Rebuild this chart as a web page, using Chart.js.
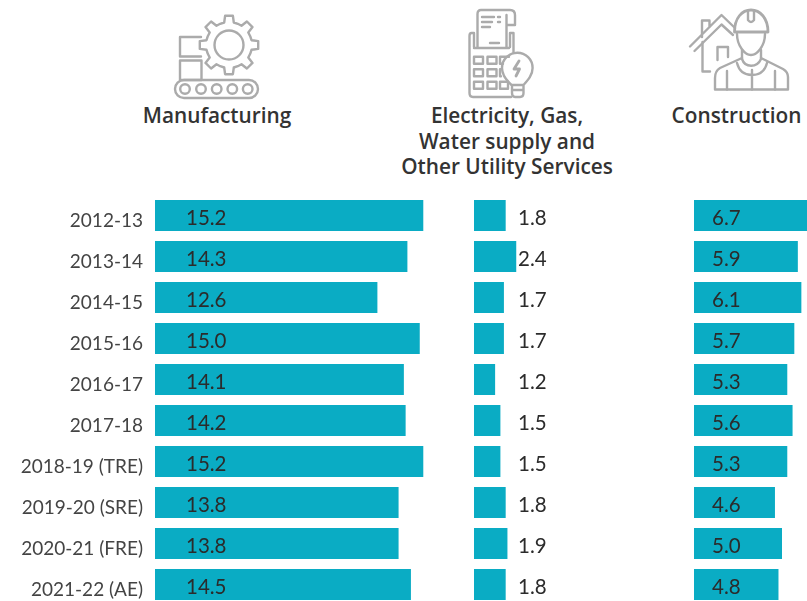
<!DOCTYPE html>
<html>
<head>
<meta charset="utf-8">
<script src="https://cdn.jsdelivr.net/npm/chart.js@4"></script>
<style>
  html, body { margin: 0; padding: 0; background: #fff; }
  body { position: relative; width: 807px; height: 601px; overflow: hidden; }
  canvas { position: absolute; top: 195px; }
  svg { position: absolute; left: 0; top: 0; }
  .title {
    position: absolute; text-align: center; color: #333;
    font: 600 20.8px/25.5px "Open Sans", sans-serif; white-space: nowrap;
    transform: translateX(-50%);
  }
</style>
</head>
<body>
<svg id="icons" width="807" height="190" fill="none" stroke="#ababab" stroke-width="2.4" stroke-linejoin="round" stroke-linecap="round">
  <!-- manufacturing -->
  <path id="gear"/>
  <circle cx="229" cy="45" r="14.5"/>
  <path d="M201 37H180V56.5H201M180 60.5H201.5V80H180Z"/>
  <rect x="175" y="80" width="83" height="18" rx="9"/>
  <circle cx="185" cy="89" r="4.8"/><circle cx="201" cy="89" r="4.8"/><circle cx="216.7" cy="89" r="4.8"/><circle cx="232.3" cy="89" r="4.8"/><circle cx="247.7" cy="89" r="4.8"/>
  <!-- electricity -->
  <path d="M477.5 47V14Q477.5 10 481 10H510Q515 10 515 15V25H506.5M506.5 15V47M474 47V33H471.5Q469.5 33 469.5 36V93Q469.5 97 473 97H511M513.5 33H510V47M513.5 33V52M474 48H509"/>
  <path d="M482 17H494M482 22H492M482 27H490M498 17H500M498 22H500M490 43H499"/>
  <rect x="474" y="56.7" width="9" height="7"/><rect x="487.5" y="56.7" width="9" height="7"/><path d="M509 56.7H500V63.7H503"/>
  <rect x="474" y="69.3" width="9" height="7"/><rect x="487.5" y="69.3" width="9" height="7"/><path d="M501 69.3H500V76.3H501"/>
  <rect x="474" y="81.7" width="9" height="7"/><rect x="487.5" y="81.7" width="9" height="7"/><rect x="500" y="81.7" width="8" height="7"/>
  <path d="M511.5 85C506 80 502 75 502 68A15.3 15.3 0 0 1 532.6 68C532.6 75 528 80 523.5 85ZM512 85V93Q512 97 515 97H520Q523.5 97 523.5 93V85M512 90H523.5"/>
  <path d="M519 61L514 69H519.5L516 76" stroke-width="2.8"/>
  <!-- construction -->
  <path d="M690 46.5L721.5 15L735 28M694.5 51L721.5 24.5L733 35M702 37V20.5H709.5V27"/>
  <path d="M702.5 42V71.5H710M717.5 60V47H728V57"/>
  <path d="M734.5 32C734.5 18 742 10 751 10C760 10 768 18 768 32Z" stroke-width="2.8"/>
  <path d="M748 10.5V20Q751 24 754 20V10.5"/>
  <path d="M737 34C737 46 745 55 751 55C757 55 765 46 765 34"/>
  <path d="M742 50V59C745 68 757 68 761 59V50"/>
  <path d="M742 58L720 68Q715 71 715 78V89.5H788V77Q788 72 783 69L761 58"/>
  <path d="M727 71V89.5M775 71V89.5M752 70V89.5M737 63Q740 75 752 75Q764 75 767 63"/>
</svg>
<div class="title" style="left:217px;top:103px">Manufacturing</div>
<div class="title" style="left:507px;top:103px">Electricity, Gas,<br>Water supply and<br>Other Utility Services</div>
<div class="title" style="left:736.5px;top:103px">Construction</div>
<canvas id="mfg" style="left:0"></canvas>
<canvas id="util" style="left:474px"></canvas>
<canvas id="con" style="left:694px"></canvas>
<script>
var years = ["2012-13", "2013-14", "2014-15", "2015-16", "2016-17", "2017-18", "2018-19 (TRE)", "2019-20 (SRE)", "2020-21 (FRE)", "2021-22 (AE)"];
var manufacturing = [15.2, 14.3, 12.6, 15.0, 14.1, 14.2, 15.2, 13.8, 13.8, 14.5];
var utilities = [1.8, 2.4, 1.7, 1.7, 1.2, 1.5, 1.5, 1.8, 1.9, 1.8];
var construction = [6.7, 5.9, 6.1, 5.7, 5.3, 5.6, 5.3, 4.6, 5.0, 4.8];

// gear outline for the manufacturing icon
function gearPath(cx, cy, rOut, rIn, teeth) {
  var d = "";
  for (var i = 0; i < teeth; i++) {
    var a = i * 2 * Math.PI / teeth - Math.PI / 2;
    var s = 2 * Math.PI / teeth;
    [[rIn, -0.5], [rIn, -0.27], [rOut, -0.17], [rOut, 0.17], [rIn, 0.27]].forEach(function (p, j) {
      var x = cx + p[0] * Math.cos(a + p[1] * s);
      var y = cy + p[0] * Math.sin(a + p[1] * s);
      d += (i === 0 && j === 0 ? "M" : "L") + x.toFixed(1) + " " + y.toFixed(1);
    });
  }
  return d + "Z";
}
document.getElementById("gear").setAttribute("d", gearPath(229, 45, 29.5, 23, 8));

// value text sits at a fixed distance from the start of each bar
var valueLabels = {
  id: "valueLabels",
  afterDatasetsDraw: function (chart, args, opts) {
    var ctx = chart.ctx;
    var meta = chart.getDatasetMeta(0);
    ctx.save();
    ctx.font = '20.5px Lato, sans-serif';
    ctx.fillStyle = "#2b2b2b";
    ctx.textAlign = "left";
    ctx.textBaseline = "middle";
    chart.data.datasets[0].data.forEach(function (v, i) {
      ctx.fillText(v.toFixed(1), chart.scales.x.left + opts.offset, meta.data[i].y + 2.5);
    });
    ctx.restore();
  }
};

function renderBars(id, values, width, maxValue, offset, showYears) {
  var canvas = document.getElementById(id);
  canvas.width = width;
  canvas.height = 410;
  canvas.style.width = width + "px";
  canvas.style.height = "410px";
  new Chart(canvas.getContext("2d"), {
    type: "bar",
    data: {
      labels: years,
      datasets: [{
        data: values,
        backgroundColor: "#0aacc4",
        barPercentage: 31 / 41,
        categoryPercentage: 1
      }]
    },
    options: {
      indexAxis: "y",
      responsive: false,
      animation: false,
      layout: { padding: 0 },
      plugins: {
        legend: { display: false },
        tooltip: { enabled: false },
        valueLabels: { offset: offset }
      },
      scales: {
        x: { display: false, min: 0, max: maxValue },
        y: {
          display: showYears,
          border: { display: false },
          grid: { display: false, drawTicks: false },
          afterFit: function (axis) {
            axis.width = showYears ? 155 : 0;
            axis.paddingTop = 0;
            axis.paddingBottom = 0;
          },
          ticks: {
            color: "#444444",
            padding: 12,
            labelOffset: 5.5,
            autoSkip: false,
            font: { family: "Lato, sans-serif", size: 19 }
          }
        }
      }
    },
    plugins: [valueLabels]
  });
}

renderBars("mfg", manufacturing, 463, 17.45, 31, true);
renderBars("util", utilities, 88, 5, 44, false);
renderBars("con", construction, 176, 10, 18, false);
</script>
</body>
</html>
